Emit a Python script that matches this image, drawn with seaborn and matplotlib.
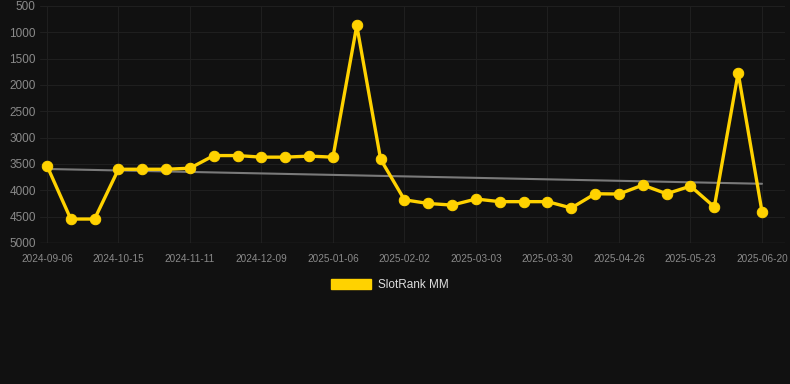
import numpy as np
import pandas as pd
import matplotlib
matplotlib.use("Agg")
import matplotlib.pyplot as plt
import seaborn as sns
from matplotlib.patches import Patch

dates = ["2024-09-06", "2024-09-19", "2024-10-02", "2024-10-15", "2024-10-24",
         "2024-11-02", "2024-11-11", "2024-11-20", "2024-11-30", "2024-12-09",
         "2024-12-18", "2024-12-27", "2025-01-06", "2025-01-15", "2025-01-24",
         "2025-02-02", "2025-02-12", "2025-02-21", "2025-03-03", "2025-03-12",
         "2025-03-21", "2025-03-30", "2025-04-08", "2025-04-17", "2025-04-26",
         "2025-05-05", "2025-05-14", "2025-05-23", "2025-06-01", "2025-06-10",
         "2025-06-20"]
rank = [3530, 4545, 4545, 3600, 3600, 3600, 3580, 3340, 3340, 3370,
        3370, 3350, 3370, 870, 3410, 4180, 4250, 4280, 4165, 4215,
        4215, 4215, 4335, 4065, 4070, 3900, 4065, 3920, 4315, 1770,
        4405]
series_name = "SlotRank MM"
yticks = [500, 1000, 1500, 2000, 2500, 3000, 3500, 4000, 4500, 5000]

BG = "#111111"
GRID = "#1f1f1f"
GOLD = "#FFD200"
TICKC = "#8a8a8a"

sns.set_theme(style="dark")
plt.rcParams["font.family"] = ["Liberation Sans", "DejaVu Sans"]

df = pd.DataFrame({"idx": np.arange(len(dates)), "date": dates, "rank": rank})
coef = np.polyfit(df["idx"], df["rank"], 1)
df["trend"] = np.polyval(coef, df["idx"])

fig = plt.figure(figsize=(7.9, 3.84), dpi=100, facecolor=BG)
ax = fig.add_axes([40 / 790, 1 - 243 / 384, 745 / 790, 237 / 384])
ax.set_facecolor(BG)

sns.lineplot(data=df, x="idx", y="trend", ax=ax, color="#7a7a7a", linewidth=1.5, zorder=2)
sns.lineplot(data=df, x="idx", y="rank", ax=ax, color=GOLD, linewidth=2.4,
             marker="o", markersize=7.5, markeredgecolor=GOLD, markerfacecolor=GOLD,
             solid_joinstyle="miter", zorder=3)

ax.set_ylim(5000, 500)
ax.set_yticks(yticks)
ax.set_yticklabels([str(v) for v in yticks])
ax.set_xlim(-0.29, 30 + 23 / 23.83)
tick_pos = list(range(0, len(dates), 3))
ax.set_xticks(tick_pos)
ax.set_xticklabels([dates[i] for i in tick_pos])

ax.grid(True, color=GRID, linewidth=0.8)
for s in ax.spines.values():
    s.set_visible(False)
ax.tick_params(axis="y", colors=TICKC, labelsize=8.5, length=0, pad=3)
ax.tick_params(axis="x", colors=GRID, labelcolor=TICKC, labelsize=7.2, length=6, width=0.8, pad=2)
ax.set_xlabel("")
ax.set_ylabel("")
ax.axhline(5000, color="#2b2b2b", linewidth=1, zorder=1)

handles = [Patch(facecolor=GOLD, edgecolor=GOLD, label=series_name)]
leg = fig.legend(handles=handles, loc="center", bbox_to_anchor=(0.5 - 5 / 790, 1 - 285 / 384),
                 frameon=False, fontsize=8.5, handlelength=3.4, handleheight=0.9,
                 handletextpad=0.55)
for t in leg.get_texts():
    t.set_color("#dddddd")

fig.savefig("out.png", dpi=100, facecolor=BG)
